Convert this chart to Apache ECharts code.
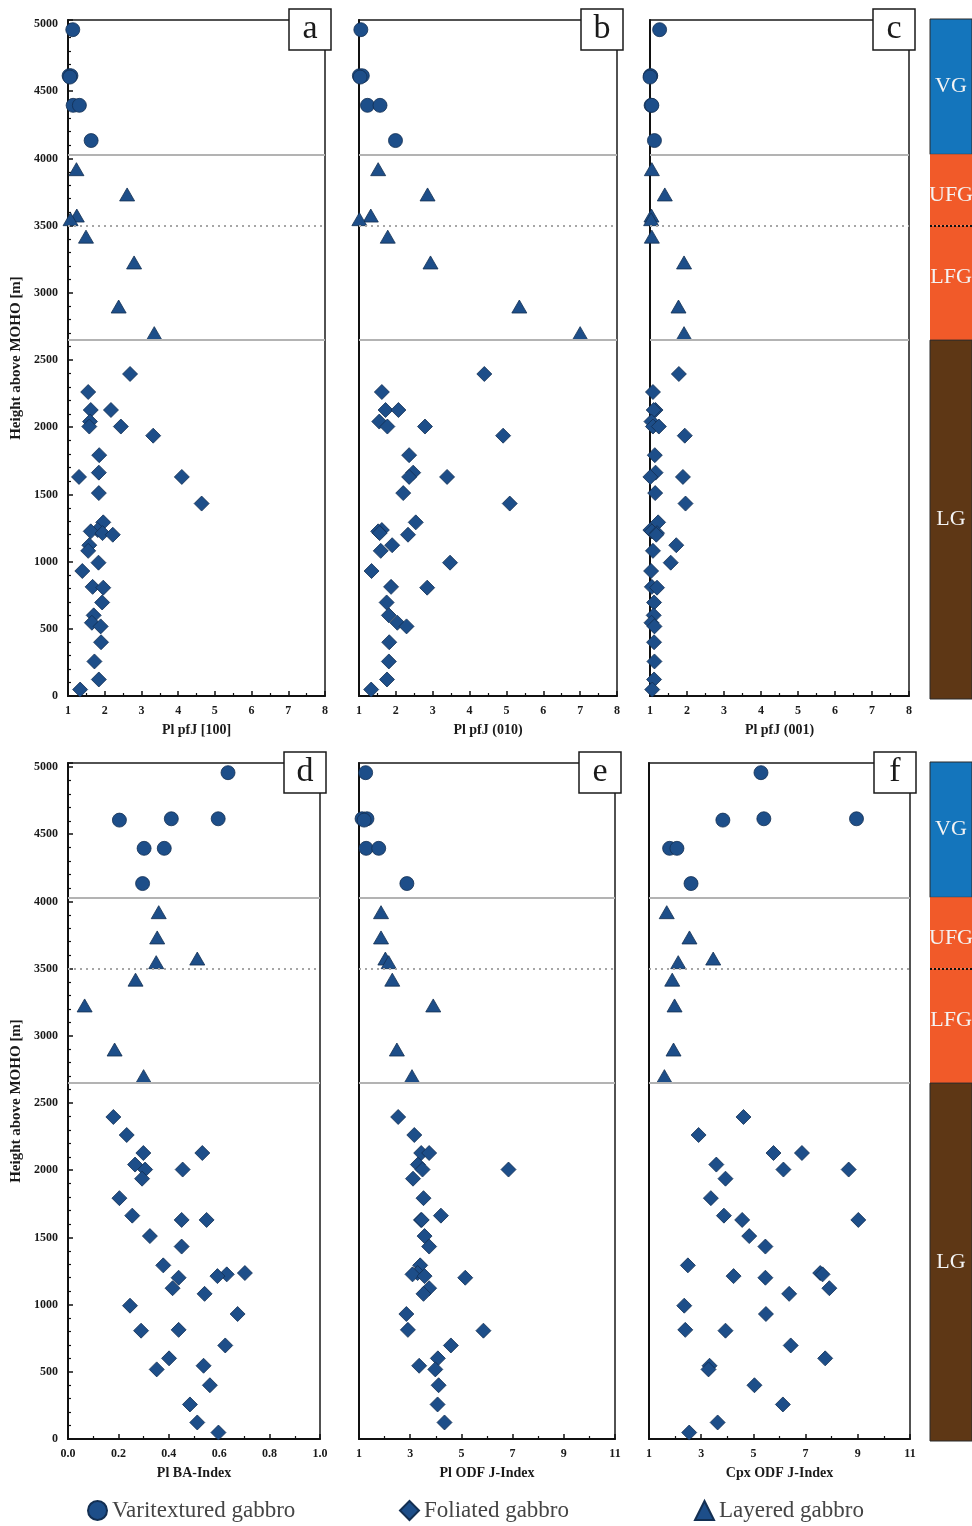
<!DOCTYPE html>
<html><head><meta charset="utf-8">
<script src="https://cdn.jsdelivr.net/npm/echarts@6/dist/echarts.min.js"></script>
<style>html,body{margin:0;padding:0;background:#fff}#c{width:972px;height:1526px}</style>
</head><body><div id="c"></div>
<script>
// ---- sample heights above MOHO [m] ----
const hVG = [4958, 4615, 4615, 4605, 4395, 4395, 4133];
const hFGz = [3920, 3732, 3575, 3548, 3418, 3226, 2898, 2700];
const hLG = [2396, 2262, 2128, 2128, 2042, 2005, 2005, 1937, 1792, 1662, 1630, 1630, 1510, 1432, 1292, 1235, 1225, 1212, 1200, 1122, 1080, 992, 930, 812, 806, 696, 600, 545, 518, 400, 257, 123, 48];

// ---- panel a: Pl pfJ [100] ----
const a_VG = [1.13, 1.03, 1.08, 1.05, 1.14, 1.31, 1.63];
const a_TR = [1.23, 2.61, 1.24, 1.07, 1.49, 2.80, 2.38, 3.35];
const a_DI = [2.69, 1.55, 1.62, 2.17, 1.60, 1.58, 2.44, 3.32, 1.85, 1.84, 1.30, 4.10, 1.84, 4.64, 1.96, 1.81, 1.62, 1.94, 2.22, 1.58, 1.55, 1.83, 1.39, 1.67, 1.96, 1.93, 1.70, 1.65, 1.89, 1.90, 1.72, 1.84, 1.33];
// ---- panel b: Pl pfJ (010) ----
const b_VG = [1.05, 1.01, 1.09, 1.03, 1.23, 1.57, 1.99];
const b_TR = [1.52, 2.86, 1.32, 1.01, 1.78, 2.94, 5.35, 7.00];
const b_DI = [4.40, 1.62, 1.72, 2.07, 1.55, 1.77, 2.79, 4.91, 2.36, 2.47, 2.36, 3.39, 2.20, 5.09, 2.54, 1.62, 1.52, 1.56, 2.33, 1.90, 1.59, 3.47, 1.34, 1.87, 2.85, 1.75, 1.81, 2.04, 2.29, 1.82, 1.81, 1.76, 1.33];
// ---- panel c: Pl pfJ (001) ----
const c_VG = [1.26, 1.01, 1.02, 1.00, 1.03, 1.05, 1.12];
const c_TR = [1.05, 1.40, 1.04, 1.03, 1.05, 1.92, 1.77, 1.92];
const c_DI = [1.78, 1.08, 1.15, 1.10, 1.04, 1.08, 1.24, 1.94, 1.13, 1.15, 1.01, 1.89, 1.14, 1.96, 1.22, 1.01, 1.05, 1.19, 1.17, 1.71, 1.08, 1.56, 1.03, 1.05, 1.19, 1.11, 1.10, 1.04, 1.12, 1.11, 1.12, 1.11, 1.06];
// ---- panel d: Pl BA-Index ----
const d_VG = [0.635, 0.41, 0.596, 0.204, 0.302, 0.382, 0.296];
const d_TR = [0.36, 0.354, 0.513, 0.35, 0.268, 0.066, 0.185, 0.30];
const d_DI = [0.180, 0.233, 0.299, 0.533, 0.266, 0.306, 0.455, 0.294, 0.204, 0.255, 0.451, 0.550, 0.325, 0.451, 0.378, 0.702, 0.630, 0.593, 0.439, 0.415, 0.542, 0.246, 0.673, 0.439, 0.290, 0.624, 0.401, 0.538, 0.352, 0.563, 0.484, 0.513, 0.597];
// ---- panel e: Pl ODF J-Index ----
const e_VG = [1.26, 1.12, 1.31, 1.20, 1.28, 1.77, 2.87];
const e_TR = [1.86, 1.86, 2.03, 2.16, 2.30, 3.90, 2.48, 3.07];
const e_DI = [2.53, 3.16, 3.43, 3.74, 3.30, 3.48, 6.84, 3.11, 3.52, 4.20, 3.42, 3.45, 3.56, 3.74, 3.39, 3.29, 3.09, 3.56, 5.15, 3.74, 3.52, null, 2.85, 2.91, 5.86, 4.59, 4.08, 3.35, 3.98, 4.11, 4.07, 4.34, null];
// ---- panel f: Cpx ODF J-Index ----
const f_VG = [5.29, 5.40, 8.95, 3.83, 1.79, 2.07, 2.61];
const f_TR = [1.68, 2.55, 3.46, 2.12, 1.89, 1.98, 1.94, 1.59];
const f_DI = [4.62, 2.90, 5.77, 6.86, 3.58, 6.15, 8.65, 3.93, 3.37, 3.87, 4.57, 9.02, 4.84, 5.46, 2.49, 7.56, 7.65, 4.24, 5.46, 7.91, 6.37, 2.35, 5.48, 2.39, 3.93, 6.43, 7.75, 3.32, 3.28, 5.04, 6.13, 3.63, 2.54];

// ---- unit boundaries [m] ----
const boundaries = [4030, 2648];
const ufgLfg = 3500;
const zones = [
  {name: 'VG', from: 4030, to: 5040, color: '#1475BC', border: 1, dy: 0},
  {name: 'UFG', from: 3500, to: 4030, color: '#F15A29', border: 0, dy: 5},
  {name: 'LFG', from: 2648, to: 3500, color: '#F15A29', border: 0, dy: -6},
  {name: 'LG', from: -25, to: 2648, color: '#5E3715', border: 1, dy: 0}
];

const panelNames = ['Pl pfJ [100]', 'Pl pfJ (010)', 'Pl pfJ (001)', 'Pl BA-Index', 'Pl ODF J-Index', 'Cpx ODF J-Index'];
const panelLetters = ['a', 'b', 'c', 'd', 'e', 'f'];
const seriesNames = ['Varitextured gabbro', 'Foliated gabbro', 'Layered gabbro'];

const FONT = '"Liberation Serif","Times New Roman",serif';
const FILL = '#1d4e89', EDGE = '#132f52';

const panelData = [
  [a_VG, a_DI, a_TR], [b_VG, b_DI, b_TR], [c_VG, c_DI, c_TR],
  [d_VG, d_DI, d_TR], [e_VG, e_DI, e_TR], [f_VG, f_DI, f_TR]
];
function pair(xs, hs) { return xs.map((v, i) => v == null ? null : [v, hs[i]]).filter(Boolean); }

const grids = [
  {left: 68, top: 20, width: 257, height: 676},
  {left: 359, top: 20, width: 258, height: 676},
  {left: 650, top: 20, width: 259, height: 676},
  {left: 68, top: 763, width: 252, height: 676},
  {left: 359, top: 763, width: 256, height: 676},
  {left: 649, top: 763, width: 261, height: 676},
  {left: 930, top: 19, width: 48, height: 680},
  {left: 930, top: 762, width: 48, height: 679}
].map((g, i) => Object.assign({show: i < 6, borderColor: '#1a1a1a', borderWidth: 1.5, containLabel: false}, g));

const xRanges = [
  {min: 1, max: 8, interval: 1}, {min: 1, max: 8, interval: 1}, {min: 1, max: 8, interval: 1},
  {min: 0, max: 1, interval: 0.2, fmt: v => v.toFixed(1)},
  {min: 1, max: 11, interval: 2}, {min: 1, max: 11, interval: 2}
];

const xAxis = [], yAxis = [], series = [], graphic = [];
const lbl = {fontFamily: FONT, fontWeight: 'bold', fontSize: 12, color: '#1a1a1a'};
for (let i = 0; i < 6; i++) {
  const r = xRanges[i];
  xAxis.push({
    type: 'value', gridIndex: i, min: r.min, max: r.max, interval: r.interval,
    name: panelNames[i], nameLocation: 'middle', nameGap: 27,
    nameTextStyle: {fontFamily: FONT, fontWeight: 'bold', fontSize: 14, color: '#1a1a1a'},
    axisLine: {lineStyle: {color: '#111', width: 2}},
    axisTick: {inside: true, length: 5, lineStyle: {color: '#111', width: 1.5}},
    minorTick: {show: true, splitNumber: 2, length: 3, lineStyle: {color: '#111', width: 1.2}},
    axisLabel: Object.assign({margin: 9, formatter: r.fmt || (v => String(v))}, lbl),
    splitLine: {show: false}
  });
  const left = (i === 0 || i === 3);
  yAxis.push({
    type: 'value', gridIndex: i, min: 0, max: 5030, interval: 500,
    name: left ? 'Height above MOHO [m]' : '', nameLocation: 'middle', nameGap: 44,
    nameTextStyle: {fontFamily: FONT, fontWeight: 'bold', fontSize: 15, color: '#1a1a1a'},
    axisLine: {lineStyle: {color: '#111', width: 2}},
    axisTick: {show: left, inside: true, length: 5, lineStyle: {color: '#111', width: 1.5}},
    minorTick: {show: left, splitNumber: 5, length: 3, lineStyle: {color: '#111', width: 1.2}},
    axisLabel: Object.assign({show: left, margin: 10, showMaxLabel: false, formatter: v => String(v)}, lbl),
    splitLine: {show: false}
  });
  const [vg, di, tr] = panelData[i];
  const base = {type: 'scatter', xAxisIndex: i, yAxisIndex: i,
    itemStyle: {color: FILL, borderColor: EDGE, borderWidth: 0.8, opacity: 1}};
  series.push(Object.assign({}, base, {
    name: seriesNames[1], symbol: 'diamond', symbolSize: 15, data: pair(di, hLG), z: 3,
    markLine: {
      silent: true, symbol: 'none', label: {show: false}, animation: false,
      data: [
        {yAxis: boundaries[0], lineStyle: {color: '#b3b3b3', width: 2, type: 'solid'}},
        {yAxis: boundaries[1], lineStyle: {color: '#b3b3b3', width: 2, type: 'solid'}},
        {yAxis: ufgLfg, lineStyle: {color: '#a6a6a6', width: 2, type: [2, 4]}}
      ]
    }
  }));
  series.push(Object.assign({}, base, {name: seriesNames[0], symbol: 'circle', symbolSize: 14, data: pair(vg, hVG), z: 4}));
  series.push(Object.assign({}, base, {name: seriesNames[2], symbol: 'triangle', symbolSize: [15, 13], data: pair(tr, hFGz), z: 4}));

  // panel letter box
  const g = grids[i];
  const bx = g.left + g.width - 36, by = g.top - 11;
  graphic.push({type: 'group', x: bx, y: by, z: 100, children: [
    {type: 'rect', shape: {x: 0, y: 0, width: 42, height: 41}, style: {fill: '#fff', stroke: '#1a1a1a', lineWidth: 1.5}},
    {type: 'text', x: 21, y: 20, style: {text: panelLetters[i], font: '34px ' + FONT, fill: '#1a1a1a', align: 'center', verticalAlign: 'middle'}}
  ]});
}

// stratigraphic column bands
const bandY = [[-22, 5037], [-15, 5037]];
for (let k = 0; k < 2; k++) {
  const gi = 6 + k;
  xAxis.push({type: 'value', gridIndex: gi, min: 0, max: 1, show: false});
  yAxis.push({type: 'value', gridIndex: gi, min: bandY[k][0], max: bandY[k][1], show: false});
  series.push({
    type: 'scatter', xAxisIndex: gi, yAxisIndex: gi, data: [[0.5, -1000]], symbolSize: 0, silent: true,
    markArea: {
      silent: true,
      data: zones.map(z => [
        {yAxis: Math.max(z.from, bandY[k][0]), name: z.name,
          itemStyle: {color: z.color, borderColor: '#2b2b2b', borderWidth: z.border, opacity: 1},
          label: {show: true, position: 'inside', offset: [0, z.dy], color: '#f4f4f4', fontFamily: FONT, fontSize: 22}},
        {yAxis: Math.min(z.to, bandY[k][1])}
      ])
    },
    markLine: {
      silent: true, symbol: 'none', label: {show: false},
      data: [{yAxis: ufgLfg, lineStyle: {color: '#111', width: 2, type: [2, 2]}}]
    }
  });
}

const legendText = {fontFamily: FONT, fontSize: 23, color: '#444'};
const legend = [
  {data: [seriesNames[0]], left: 87, top: 1499},
  {data: [seriesNames[1]], left: 399, top: 1499},
  {data: [seriesNames[2]], left: 694, top: 1499}
].map(l => Object.assign({itemWidth: 19, itemHeight: 19, itemGap: 0, selectedMode: false, textStyle: legendText, padding: 0}, l));

const chart = echarts.init(document.getElementById('c'), null, {renderer: 'canvas'});
chart.setOption({animation: false, backgroundColor: '#fff', grid: grids, xAxis, yAxis, series, legend, graphic});
</script></body></html>
